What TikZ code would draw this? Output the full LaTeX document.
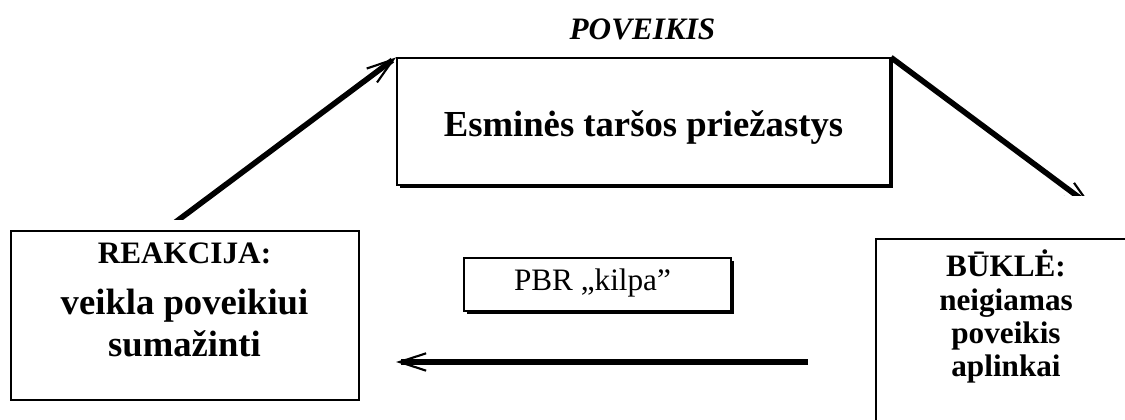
\documentclass[tikz,border=0pt]{standalone}
\usepackage{fontspec}
\setmainfont{Liberation Serif}
\usetikzlibrary{positioning,arrows.meta,shadows}

\begin{document}
\begin{tikzpicture}[x=0.75pt,y=0.75pt,
	box/.style={draw,line width=1.5pt,inner sep=0pt},
	shadowbox/.style={box,fill=white,drop shadow={shadow xshift=2.25pt,shadow yshift=-2.25pt,fill=black,opacity=1}},
	big/.style={font=\bfseries\fontsize{27.5}{31.5}\selectfont},
	small/.style={font=\bfseries\fontsize{23.4}{25}\selectfont},
	flow/.style={line width=4.2pt,-{Straight Barb[length=20pt,width=13pt,line width=1.6pt]}}]
	\useasboundingbox (0,0) rectangle (1125,420);
	\clip (0,0) rectangle (1125,420);
	\node[shadowbox,minimum width=369.75pt,minimum height=94.9pt] (priezastys) at (643.5,298.25) {};
	\node[big,anchor=base] (esmines) at (643.5,283.3) {Esminės taršos priežastys};
	\node[font=\bfseries\itshape\fontsize{23.4}{25}\selectfont,anchor=base] (poveikis) at (642.5,380) {POVEIKIS};
	\node[box,minimum width=261.2pt,minimum height=127pt] (reakcija) at (184.85,104.65) {};
	\node[big,align=center,anchor=base] (reakcijatext) at (184.5,63) {{\fontsize{23.4}{25}\selectfont REAKCIJA:}\\[6.75pt]veikla poveikiui\\sumažinti};
	\node[box,minimum width=195pt,minimum height=150.5pt] (bukle) at (1006,80.35) {};
	\node[small,align=center,anchor=base] (bukletext) at (1006,43.3) {BŪKLĖ:\\neigiamas\\poveikis\\aplinkai};
	\node[shadowbox,minimum width=200.6pt,minimum height=40.1pt] (pbr) at (597.25,135.75) {};
	\node[font=\fontsize{23.4}{25}\selectfont,anchor=base] (pbrtext) at (592.5,129.3) {PBR „kilpa”};
	\coordinate (upstart) at (165,190);
	\coordinate (downend) at (1093,212.2);
	\coordinate (backstart) at (808,58);
	\coordinate (backend) at (396,58);
	\begin{scope}
		\clip (0,200) rectangle (1125,420);
		\draw[flow] (upstart) -- (priezastys.north west);
	\end{scope}
	\begin{scope}
		\clip (0,224) rectangle (1125,420);
		\draw[flow] (priezastys.north east) -- (downend);
	\end{scope}
	\draw[flow] (backstart) -- (backend);
\end{tikzpicture}
\end{document}
